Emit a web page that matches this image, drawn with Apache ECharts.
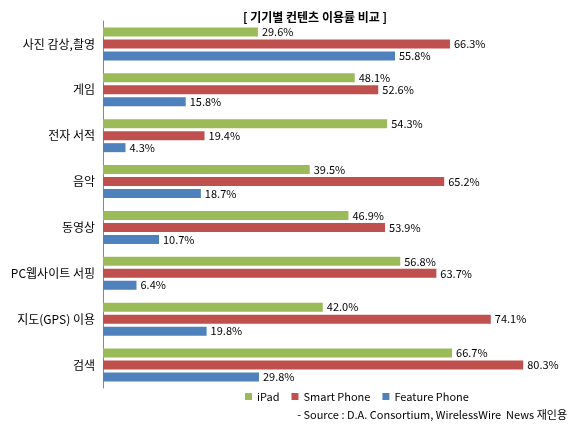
<!DOCTYPE html><html><head><meta charset="utf-8"><script src="https://cdn.jsdelivr.net/npm/echarts@6/dist/echarts.min.js"></script>
<style>html,body{margin:0;padding:0;background:#fff}#c{width:577px;height:427px}</style></head><body><div id="c"></div><script>
const categories=['사진 감상,촬영','게임','전자 서적','음악','동영상','PC웹사이트 서핑','지도(GPS) 이용','검색'];
const ipad=[29.6,48.1,54.3,39.5,46.9,56.8,42.0,66.7];
const smart=[66.3,52.6,19.4,65.2,53.9,63.7,74.1,80.3];
const feature=[55.8,15.8,4.3,18.7,10.7,6.4,19.8,29.8];
const names=['iPad','Smart Phone','Feature Phone'];
const colors=['#9BBB59','#C0504D','#4F81BD'];
const F='"Malgun Gothic","Noto Sans CJK KR",sans-serif';
const mk=(n,d,c)=>({name:n,type:'bar',data:d,barWidth:9,barGap:'33%',itemStyle:{color:c},
 label:{show:true,position:'right',distance:4,formatter:p=>p.value.toFixed(1)+'%',fontSize:11,color:'#000',fontFamily:F}});
const ch=echarts.init(document.getElementById('c'));
ch.setOption({animation:false,
 title:{text:'[ 기기별 컨텐츠 이용률 비교 ]',left:310,top:6,textAlign:'center',textStyle:{fontSize:12,fontWeight:'bold',color:'#000',fontFamily:F}},
 legend:{data:names,bottom:20,left:240,itemWidth:7,itemHeight:7,itemGap:12,icon:'rect',textStyle:{fontSize:11,color:'#000',fontFamily:F}},
 graphic:[{type:'text',right:10,top:409,style:{text:'- Source : D.A. Consortium, WirelessWire  News 재인용',fontSize:11,fill:'#000',fontFamily:F}}],
 grid:{left:103,right:3,top:21,bottom:39},
 xAxis:{type:'value',min:0,max:90,show:false},
 yAxis:{type:'category',data:categories,inverse:true,axisLine:{lineStyle:{color:'#888'}},axisTick:{length:4,lineStyle:{color:'#888'}},axisLabel:{fontSize:12,color:'#000',fontFamily:F,margin:8}},
 series:[mk(names[0],ipad,colors[0]),mk(names[1],smart,colors[1]),mk(names[2],feature,colors[2])]});
</script></body></html>
